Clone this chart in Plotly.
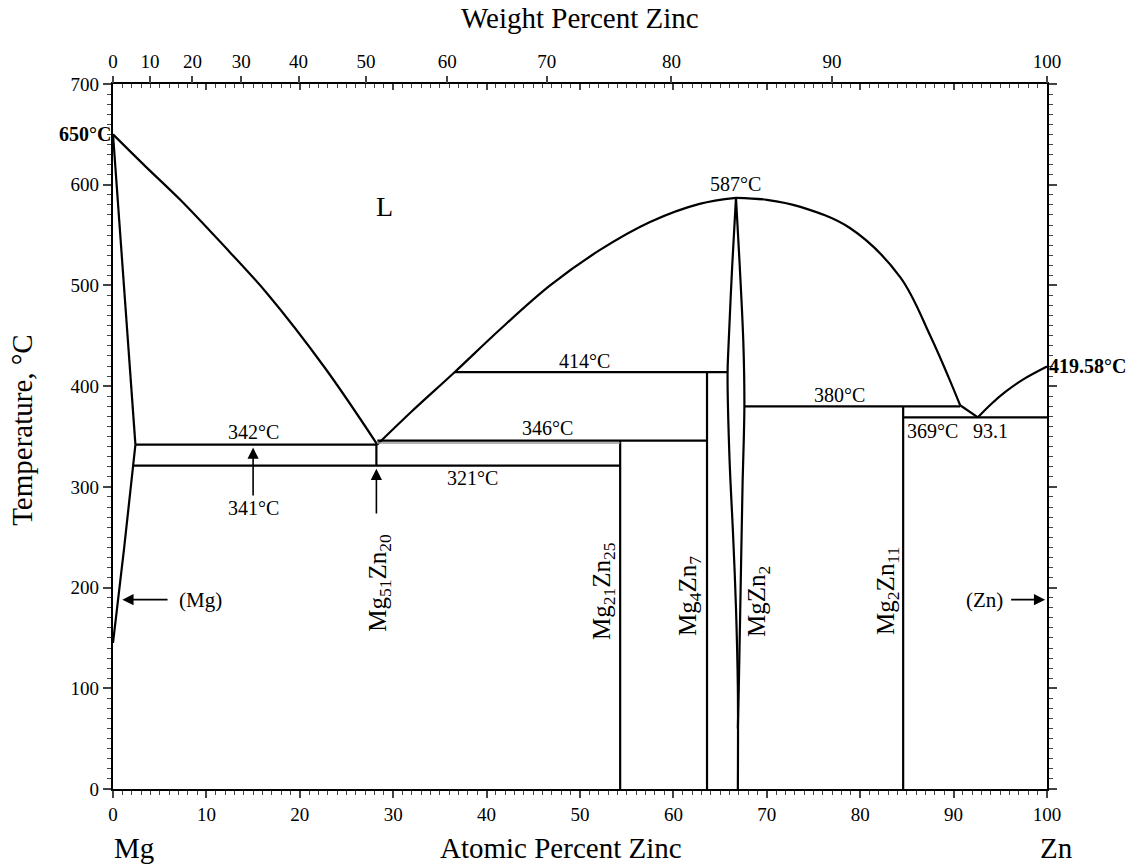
import plotly.graph_objects as go

# ---------------- data (atomic % Zn, temperature degC) ----------------
liq_mg_x = [0, 3.5, 7.2, 11.5, 16.5, 22.7, 28.3]
liq_mg_T = [650, 618, 585, 543, 492, 418, 342]

sol_mg_x = [0, 2.4]
sol_mg_T = [650, 342]

solv_mg_x = [2.4, 1.2, 0]
solv_mg_T = [342, 240, 145]

liq_mid_x = [28.3, 32.0, 36.6, 41.4, 46.8, 52.1, 57.5, 62.8, 66.7]
liq_mid_T = [342, 375, 414, 456, 500, 535, 563, 581, 587]

liq_right_x = [66.7, 70.0, 73.6, 78.9, 84.3, 87.5, 89.5, 90.7]
liq_right_T = [587, 585, 578, 557, 508, 450, 408, 381]
liq_eut_x = [90.7, 92.6]
liq_eut_T = [381, 369]

liq_zn_x = [92.6, 94.0, 95.5, 97.5, 100]
liq_zn_T = [369, 382, 394, 407, 419.58]

lens_left_x = [66.7, 66.3, 65.9, 65.8, 66.0, 66.4, 66.7, 66.9, 66.9]
lens_left_T = [587, 520, 440, 412, 330, 250, 180, 100, 0]
lens_right_x = [66.7, 67.1, 67.5, 67.6, 67.4, 67.2, 67.0, 66.9]
lens_right_T = [587, 520, 440, 380, 300, 200, 100, 60]

# invariant lines: (x_start, x_end, T)
iso_x0 = [2.4, 2.2, 28.3, 36.6, 67.6, 84.6]
iso_x1 = [28.3, 54.3, 63.6, 65.8, 90.7, 100]
iso_T = [342, 321, 346, 414, 380, 369]
gray_iso = (28.3, 54.3, 343.5)

# compound lines: (x, T_bottom, T_top)
comp_x = [28.2, 54.3, 63.6, 84.6]
comp_T0 = [321, 0, 0, 0]
comp_T1 = [342, 346, 414, 380]

# axes
at_ticks = list(range(0, 101, 10))
wt_ticks = [0, 10, 20, 30, 40, 50, 60, 70, 80, 90, 100]
M_ZN, M_MG = 65.38, 24.305
wt_pos = [100 * (w / M_ZN) / (w / M_ZN + (100 - w) / M_MG) for w in wt_ticks]

FONT = "Liberation Serif"
LW = 2.2

fig = go.Figure()

def line(x, y, color="black", width=LW, spline=False, xa="x"):
    fig.add_trace(go.Scatter(x=x, y=y, mode="lines", xaxis=xa,
                             line=dict(color=color, width=width,
                                       shape=("spline" if spline else "linear"), smoothing=1.0),
                             hoverinfo="skip", showlegend=False))

line(liq_mg_x, liq_mg_T, spline=True)
line(sol_mg_x, sol_mg_T)
line(solv_mg_x, solv_mg_T)
line(liq_mid_x, liq_mid_T, spline=True)
line(liq_right_x, liq_right_T, spline=True)
line(liq_eut_x, liq_eut_T)
line(liq_zn_x, liq_zn_T, spline=True, xa="x2")
line(lens_left_x, lens_left_T, spline=True)
line(lens_right_x, lens_right_T, spline=True)
for a, b, t in zip(iso_x0, iso_x1, iso_T):
    line([a, b], [t, t])
line([gray_iso[0], gray_iso[1]], [gray_iso[2], gray_iso[2]], color="#9a9a9a", width=1.5, xa="x3")
for x, t0, t1 in zip(comp_x, comp_T0, comp_T1):
    line([x, x], [t0, t1])

ann = []
def txt(x, y, s, size=20, bold=False, angle=0, xanchor="center", yanchor="middle", xref="x", yref="y"):
    ann.append(dict(x=x, y=y, xref=xref, yref=yref, text=(f"<b>{s}</b>" if bold else s),
                    showarrow=False, textangle=angle, xanchor=xanchor, yanchor=yanchor,
                    font=dict(family=FONT, size=size, color="black")))

def arrow(x, y, ax, ay):
    ann.append(dict(x=x, y=y, ax=ax, ay=ay, xref="x", yref="y", axref="x", ayref="y",
                    text="", showarrow=True, arrowhead=2, arrowsize=1.4, arrowwidth=1.6,
                    arrowcolor="black"))

txt(29.1, 578, "L", size=28)
txt(66.7, 601, "587°C")
txt(50.5, 425, "414°C")
txt(15.0, 354, "342°C")
txt(46.5, 358, "346°C")
txt(15.0, 279, "341°C")
txt(38.5, 309, "321°C")
txt(77.8, 391, "380°C")
txt(87.7, 355, "369°C")
txt(94.0, 355, "93.1")
txt(0, 650, "650°C", size=20, bold=True, xanchor="right")
txt(100, 419.58, "419.58°C", size=20, bold=True, xanchor="left")

arrow(15.0, 339, 15.0, 290)
arrow(28.2, 318, 28.2, 272)
arrow(1.0, 188, 6.0, 188)
arrow(99.8, 188, 96.0, 188)
txt(9.4, 188, "(Mg)", size=21)
txt(93.3, 188, "(Zn)", size=21)

txt(28.5, 205, "Mg<sub>51</sub>Zn<sub>20</sub>", size=25, angle=-90)
txt(52.5, 197, "Mg<sub>21</sub>Zn<sub>25</sub>", size=25, angle=-90)
txt(61.7, 192, "Mg<sub>4</sub>Zn<sub>7</sub>", size=25, angle=-90)
txt(69.1, 186, "MgZn<sub>2</sub>", size=25, angle=-90)
txt(82.9, 197, "Mg<sub>2</sub>Zn<sub>11</sub>", size=25, angle=-90)

txt(0.50, 1.093, "Weight Percent Zinc", size=29, xref="paper", yref="paper")
txt(0.48, -0.084, "Atomic Percent Zinc", size=29, xref="paper", yref="paper")
txt(0.023, -0.084, "Mg", size=29, xref="paper", yref="paper")
txt(1.01, -0.084, "Zn", size=29, xref="paper", yref="paper")
txt(-0.097, 0.51, "Temperature, °C", size=29, angle=-90, xref="paper", yref="paper")

tickfont = dict(family=FONT, size=19, color="black")
fig.update_layout(
    width=1140, height=867,
    margin=dict(l=113, r=93, t=84, b=78),
    paper_bgcolor="white", plot_bgcolor="white",
    showlegend=False,
    annotations=ann,
    xaxis=dict(range=[0, 100], tickvals=at_ticks, ticks="outside", ticklen=7, tickwidth=1.5,
               minor=dict(dtick=1, ticklen=4, tickwidth=1, ticks="outside"),
               showline=True, linewidth=LW, linecolor="black", showgrid=False, zeroline=False,
               tickfont=tickfont, fixedrange=True),
    xaxis3=dict(range=[0, 100], overlaying="x", side="top", anchor="y", tickvals=at_ticks,
                ticks="inside", ticklen=6, tickwidth=1.5,
                minor=dict(dtick=1, ticklen=4, tickwidth=1, ticks="inside"),
                showticklabels=False, showline=True, linewidth=LW, linecolor="black",
                showgrid=False, zeroline=False, fixedrange=True),
    xaxis2=dict(range=[0, 100], overlaying="x", side="top", anchor="y", tickvals=wt_pos,
                ticktext=[str(w) for w in wt_ticks], ticks="outside", ticklen=7, tickwidth=1.5,
                showline=False, showgrid=False, zeroline=False, tickfont=tickfont,
                fixedrange=True),
    yaxis=dict(range=[0, 700], tickvals=list(range(0, 701, 100)), ticks="outside", ticklen=8,
               tickwidth=1.5, minor=dict(dtick=10, ticklen=4, tickwidth=1, ticks="outside"),
               mirror="ticks", showline=True, linewidth=LW, linecolor="black", showgrid=False,
               zeroline=False, tickfont=tickfont, fixedrange=True),
)

fig.write_html("out.html", config={"displayModeBar": False},
               post_script="document.body.style.margin='0px';")
